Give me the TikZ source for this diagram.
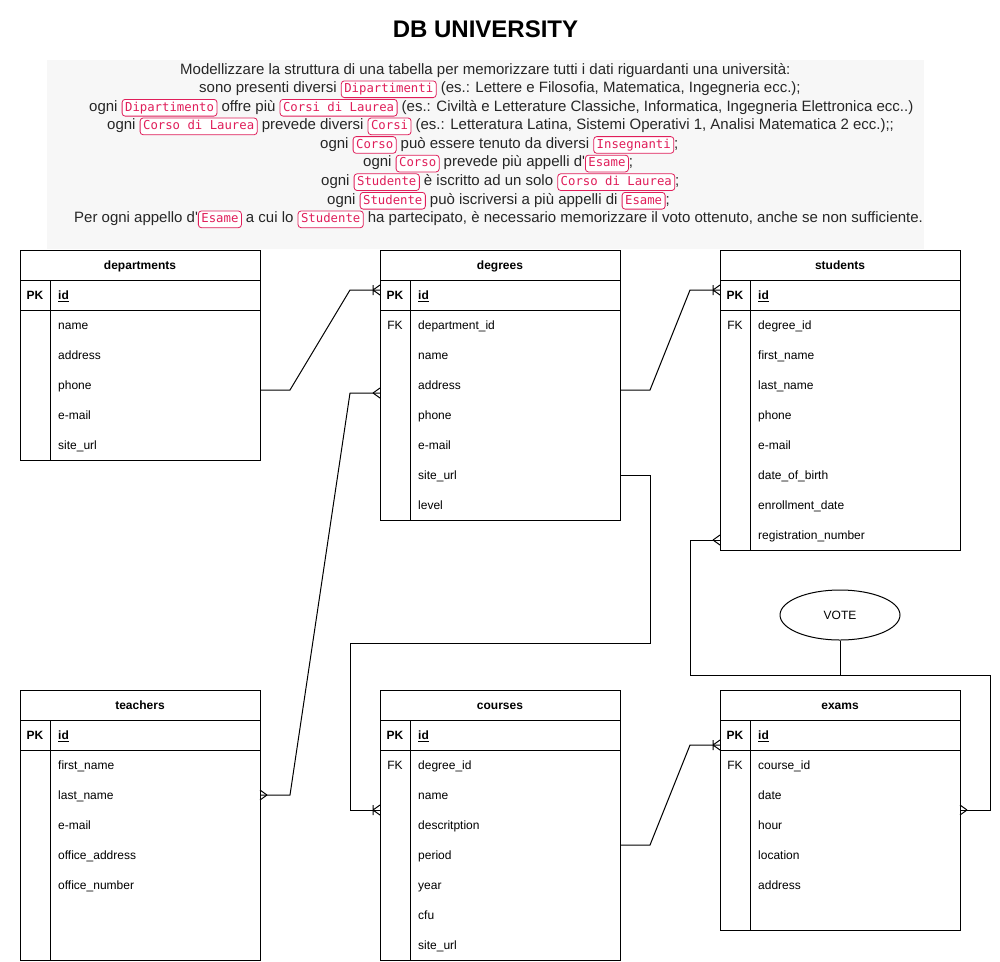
\documentclass[tikz,border=0pt]{standalone}
\usepackage{fontspec}
\usetikzlibrary{shapes.geometric}
\setmainfont{Liberation Sans}
\newfontfamily\codefont{DejaVu Sans Mono}
\definecolor{codepink}{HTML}{E01E5A}
\definecolor{bggray}{HTML}{F7F7F7}
\tikzset{
  codebox/.style={draw=codepink, fill=white, text=codepink, rounded corners=3pt,
    line width=0.8pt, inner xsep=3pt, inner ysep=2.6pt, anchor=base,
    font=\codefont\fontsize{12.3}{14}\selectfont, text height=9pt, text depth=2.5pt,
    minimum height=0pt, minimum width=0pt, outer sep=0pt},
  desc/.style={anchor=base west, inner sep=0pt, font=\fontsize{15}{18}\selectfont, text=black!85},
  tbl/.style={draw, line width=1pt, minimum width=240pt, inner sep=0pt, fill=white},
  tline/.style={line width=1pt},
  hdr/.style={anchor=base, inner sep=0pt, font=\bfseries\fontsize{12}{14}\selectfont},
  fld/.style={anchor=base west, inner sep=0pt, font=\fontsize{12}{14}\selectfont},
  key/.style={anchor=base, inner sep=0pt, font=\fontsize{12}{14}\selectfont},
  conn/.style={line width=1pt, line join=miter},
  manyL/.pic={\draw[conn] (-7,0) -- (0,-5) (-7,0) -- (0,5);},
  manyR/.pic={\draw[conn] (7,0) -- (0,-5) (7,0) -- (0,5);},
  onemanyL/.pic={\draw[conn] (-7,0) -- (0,-5) (-7,0) -- (0,5) (-7,-5) -- (-7,5);},
}
\newcommand{\cd}[1]{\tikz[baseline=(cb.base)]\node[codebox](cb){#1};}
\newcommand{\ertable}[6]{%
  \node[tbl, minimum height=#4pt, anchor=north west] (#1) at (#2,#3) {};
  \node[hdr] (#1-title) at ({#2+120},{#3+19.8}) {#5};
  \draw[tline] ({#2},{#3+30}) -- ({#2+240},{#3+30});
  \draw[tline] ({#2},{#3+60}) -- ({#2+240},{#3+60});
  \draw[tline] ({#2+30},{#3+30}) -- ({#2+30},{#3+#4});
  \node[key, font=\bfseries\fontsize{12}{14}\selectfont] (#1-pk) at ({#2+15},{#3+49.6}) {PK};
  \foreach [count=\i] \ename in {#6} {
    \node[fld] (#1-f\i) at ({#2+38},{#3+30*\i+19.6}) {\ename};
  }
}
\begin{document}
\begin{tikzpicture}[x=1pt,y=-1pt]
\useasboundingbox (0,0) rectangle (1000,961);
\fill[white] (0,0) rectangle (1000,961);

% title
\node[font=\bfseries\fontsize{24}{28}\selectfont, inner sep=0pt, anchor=base] (title) at (485.5,37) {DB UNIVERSITY};

% description block
\fill[bggray] (47,60) rectangle (924,249);
\node[desc] (d1) at (180,74) {Modellizzare la struttura di una tabella per memorizzare tutti i dati riguardanti una università:};
\node[desc] (d2) at (199,92.5) {sono presenti diversi \cd{Dipartimenti} (es.: Lettere e Filosofia, Matematica, Ingegneria ecc.);};
\node[desc] (d3) at (89,111) {ogni \cd{Dipartimento} offre più \cd{Corsi di Laurea} (es.: Civiltà e Letterature Classiche, Informatica, Ingegneria Elettronica ecc..)};
\node[desc] (d4) at (107,129.6) {ogni \cd{Corso di Laurea} prevede diversi \cd{Corsi} (es.: Letteratura Latina, Sistemi Operativi 1, Analisi Matematica 2 ecc.);;};
\node[desc] (d5) at (320,148.2) {ogni \cd{Corso} può essere tenuto da diversi \cd{Insegnanti};};
\node[desc] (d6) at (363,166.8) {ogni \cd{Corso} prevede più appelli d\textquotesingle\cd{Esame};};
\node[desc] (d7) at (321,185.4) {ogni \cd{Studente} è iscritto ad un solo \cd{Corso di Laurea};};
\node[desc] (d8) at (327,204) {ogni \cd{Studente} può iscriversi a più appelli di \cd{Esame};};
\node[desc] (d9) at (74,222.6) {Per ogni appello d\textquotesingle\cd{Esame} a cui lo \cd{Studente} ha partecipato, è necessario memorizzare il voto ottenuto, anche se non sufficiente.};

% tables
\ertable{dep}{20}{250}{210}{departments}{{\textbf{\underline{id}}},name,address,phone,e-mail,site\_url}
\ertable{deg}{380}{250}{270}{degrees}{{\textbf{\underline{id}}},department\_id,name,address,phone,e-mail,site\_url,level}
\ertable{stu}{720}{250}{300}{students}{{\textbf{\underline{id}}},degree\_id,first\_name,last\_name,phone,e-mail,date\_of\_birth,enrollment\_date,registration\_number}
\ertable{tea}{20}{690}{270}{teachers}{{\textbf{\underline{id}}},first\_name,last\_name,e-mail,office\_address,office\_number}
\ertable{cou}{380}{690}{270}{courses}{{\textbf{\underline{id}}},degree\_id,name,descritption,period,year,cfu,site\_url}
\ertable{exa}{720}{690}{240}{exams}{{\textbf{\underline{id}}},course\_id,date,hour,location,address}
\node[key] (deg-fk) at (395,329.6) {FK};
\node[key] (stu-fk) at (735,329.6) {FK};
\node[key] (cou-fk) at (395,769.6) {FK};
\node[key] (exa-fk) at (735,769.6) {FK};

% vote
\node[draw, line width=1pt, ellipse, minimum width=120pt, minimum height=50pt, inner sep=0pt,
      font=\fontsize{12}{14}\selectfont] (vote) at (840,615) {VOTE};

% connector end points
\coordinate (depOut) at (260,390);
\coordinate (degIn) at (380,290);
\coordinate (degOut) at (620,390);
\coordinate (stuIn) at (720,290);
\coordinate (teaOut) at (260,795);
\coordinate (degIn2) at (380,393);
\coordinate (degOut2) at (620,475);
\coordinate (couIn) at (380,810);
\coordinate (stuOut) at (720,540);
\coordinate (exaIn) at (960,810);
\coordinate (couOut) at (620,845);
\coordinate (exaIn2) at (720,745);
\coordinate (voteJoin) at (840,675);

% connectors
\draw[conn] (depOut) -- (290,390) -- (350,290) -- (degIn);
\pic at (degIn) {onemanyL};
\draw[conn] (degOut) -- (650,390) -- (690,290) -- (stuIn);
\pic at (stuIn) {onemanyL};
\draw[conn] (teaOut) -- (290,795) -- (350,393) -- (degIn2);
\pic at (teaOut) {manyR};
\pic at (degIn2) {manyL};
\draw[conn] (degOut2) -- (650,475) -- (650,643) -- (350,643) -- (350,810) -- (couIn);
\pic at (couIn) {onemanyL};
\draw[conn] (stuOut) -- (690,540) -- (690,675) -- (voteJoin) -- (990,675) -- (990,810) -- (exaIn);
\pic at (stuOut) {manyL};
\pic at (exaIn) {manyR};
\draw[conn] (vote.south) -- (voteJoin);
\draw[conn] (couOut) -- (650,845) -- (690,745) -- (exaIn2);
\pic at (exaIn2) {onemanyL};
\end{tikzpicture}
\end{document}
